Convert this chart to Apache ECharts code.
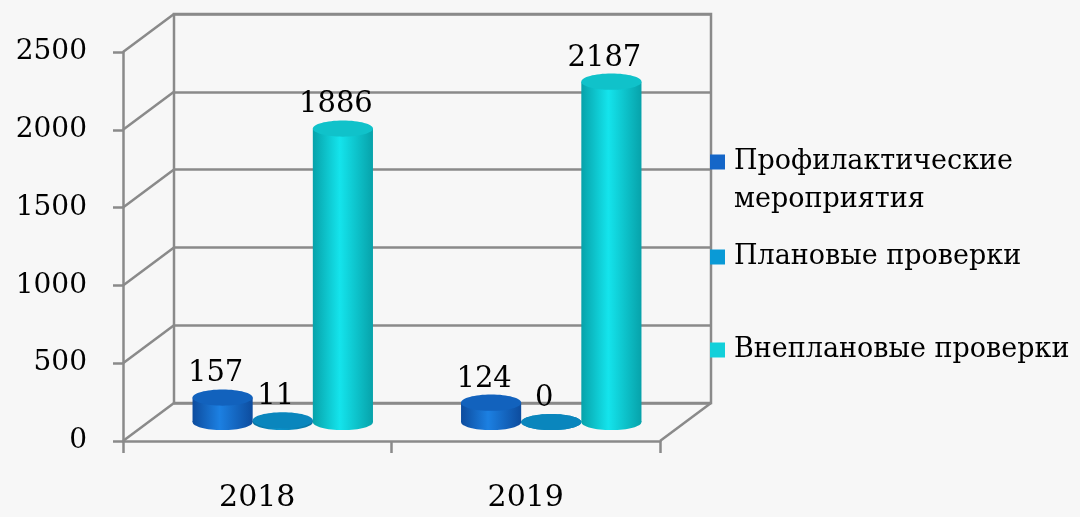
<!DOCTYPE html>
<html>
<head>
<meta charset="utf-8">
<script src="https://cdn.jsdelivr.net/npm/echarts@6/dist/echarts.min.js"></script>
<style>
html,body{margin:0;padding:0;background:#f7f7f7;}
#c{width:1080px;height:517px;}
</style>
</head>
<body>
<div id="c"></div>
<script>
// ---- data ----
const categories = ['2018', '2019'];
const seriesNames = ['Профилактические мероприятия', 'Плановые проверки', 'Внеплановые проверки'];
const profValues = [157, 124];
const planValues = [11, 0];
const unplanValues = [1886, 2187];
const yTicks = [0, 500, 1000, 1500, 2000, 2500];

// ---- styles ----
const FONT = '"DejaVu Serif", serif';
const GRID_COLOR = '#8a8a8a';
const DX = 51, DY = -38;        // depth offset of back wall
const BAR_FRAC = 0.224;          // bar width / category band
const palettes = [
  {legend: '#1466c8', dark: '#0d4c9e', light: '#1c80e2', top: '#1262bd'},
  {legend: '#0a9ad6', dark: '#07709e', light: '#0c94cc', top: '#0a86bd'},
  {legend: '#12d0da', dark: '#07a2aa', light: '#14e4ec', top: '#10c2ca'}
];
const allValues = [profValues, planValues, unplanValues];

const chart = echarts.init(document.getElementById('c'), null, {renderer: 'canvas'});

function cylRender(s) {
  const pal = palettes[s];
  return function (params, api) {
    const i = api.value(0), v = api.value(1);
    const base = api.coord([i, 0]);
    const top = api.coord([i, v]);
    const bw = api.size([1, 0])[0];
    const w = bw * BAR_FRAC;
    const cx = base[0] + (s - 1) * w + DX / 2;
    const by = base[1] + DY / 2, ty = top[1] + DY / 2;
    const rx = w / 2, ry = w * 0.135;
    const grad = new echarts.graphic.LinearGradient(0, 0, 1, 0, [
      {offset: 0, color: pal.dark},
      {offset: 0.45, color: pal.light},
      {offset: 1, color: pal.dark}
    ]);
    return {
      type: 'group',
      children: [
        {type: 'ellipse', shape: {cx: cx, cy: by, rx: rx, ry: ry}, style: {fill: grad}},
        {type: 'rect', shape: {x: cx - rx, y: ty, width: w, height: Math.max(by - ty, 0)}, style: {fill: grad}},
        {type: 'ellipse', shape: {cx: cx, cy: ty, rx: rx, ry: ry}, style: {fill: pal.top}},
        {type: 'text', style: {text: String(v), x: cx - 7, y: ty - ry - 1, align: 'center', verticalAlign: 'bottom',
          font: '29px ' + FONT, fill: '#000'}}
      ]
    };
  };
}

function diagRender(params, api) {
  const v = api.value(1);
  const p = api.coord([0, v]);
  const bw = api.size([1, 0])[0];
  const x0 = p[0] - bw / 2;
  const children = [{type: 'line', shape: {x1: x0, y1: p[1], x2: x0 + DX, y2: p[1] + DY},
    style: {stroke: GRID_COLOR, lineWidth: 2.5}}];
  if (v === 0) {
    const x1 = x0 + bw * categories.length;
    children.push({type: 'line', shape: {x1: x1, y1: p[1], x2: x1 + DX, y2: p[1] + DY},
      style: {stroke: GRID_COLOR, lineWidth: 2.5}});
  }
  return {type: 'group', children: children};
}

const legends = seriesNames.map(function (name, k) {
  const tops = [105, 238, 331];
  return {
    data: [name], left: 710, top: tops[k], orient: 'vertical', padding: 0,
    icon: 'rect', itemWidth: 15, itemHeight: 15, selectedMode: false,
    formatter: function (n) { return k === 0 ? '\n' + n.replace(' ', '\n') : n; },
    textStyle: {fontFamily: FONT, fontSize: 27, color: '#000', lineHeight: 38, padding: [0, 0, 0, 4]}
  };
});

const series = [{
  type: 'custom', xAxisIndex: 0, yAxisIndex: 0, clip: false, z: 1, silent: true,
  renderItem: diagRender, data: yTicks.map(function (v) { return [0, v]; })
}];
allValues.forEach(function (vals, s) {
  series.push({
    type: 'custom', name: seriesNames[s], xAxisIndex: 0, yAxisIndex: 0, clip: false, z: 5 + s,
    itemStyle: {color: palettes[s].legend},
    renderItem: cylRender(s),
    data: vals.map(function (v, i) { return [i, v]; })
  });
});

chart.setOption({
  backgroundColor: '#f7f7f7',
  animation: false,
  legend: legends,
  grid: [
    {left: 123, right: 420, top: 52, bottom: 76},
    {left: 123 + DX, right: 420 - DX, top: 52 + DY, bottom: 76 - DY, show: true,
     borderColor: GRID_COLOR, borderWidth: 2.5, backgroundColor: 'transparent'}
  ],
  xAxis: [
    {type: 'category', gridIndex: 0, data: categories, boundaryGap: true,
     axisLine: {lineStyle: {color: GRID_COLOR, width: 2.5}},
     axisTick: {show: true, length: 12, alignWithLabel: false, lineStyle: {color: GRID_COLOR, width: 2.5}},
     axisLabel: {fontFamily: FONT, fontSize: 30, color: '#000', margin: 42},
     splitLine: {show: false}},
    {type: 'category', gridIndex: 1, data: categories, show: false}
  ],
  yAxis: [
    {type: 'value', gridIndex: 0, min: 0, max: 2500, interval: 500,
     axisLine: {show: true, lineStyle: {color: GRID_COLOR, width: 2.5}},
     axisTick: {show: true, length: 10, lineStyle: {color: GRID_COLOR, width: 2.5}},
     axisLabel: {fontFamily: FONT, fontSize: 28, color: '#000', margin: 36,
                 formatter: function (v) { return String(v); }},
     splitLine: {show: false}},
    {type: 'value', gridIndex: 1, min: 0, max: 2500, interval: 500,
     axisLine: {show: false}, axisTick: {show: false}, axisLabel: {show: false},
     splitLine: {show: true, lineStyle: {color: GRID_COLOR, width: 2.5}}}
  ],
  series: series
});
</script>
</body>
</html>
